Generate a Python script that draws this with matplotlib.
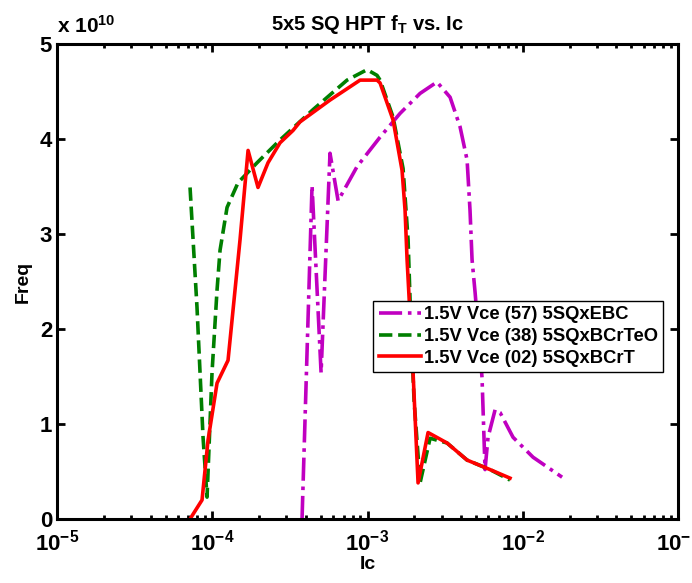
import matplotlib
matplotlib.use("Agg")
import matplotlib.pyplot as plt
from matplotlib.ticker import FixedLocator, LogLocator, NullFormatter, FuncFormatter
import numpy as np

plt.rcParams['font.family'] = ['Liberation Sans', 'DejaVu Sans']
plt.rcParams['font.weight'] = 'bold'
plt.rcParams['mathtext.fontset'] = 'custom'
plt.rcParams['mathtext.rm'] = 'Liberation Sans:bold'
plt.rcParams['mathtext.it'] = 'Liberation Sans:bold'
plt.rcParams['mathtext.bf'] = 'Liberation Sans:bold'

# frequencies in units of 1e10 Hz
ic_57 = [3.785e-4, 4.39e-4, 5.02e-4, 5.73e-4, 6.46e-4, 8.56e-4, 1.204e-3, 1.62e-3,
         2.179e-3, 2.80e-3, 3.40e-3, 3.94e-3, 4.375e-3, 4.57e-3, 4.71e-3, 4.93e-3,
         5.46e-3, 5.71e-3, 5.97e-3, 6.63e-3, 7.14e-3, 8.65e-3, 1.164e-2, 1.79e-2]
ft_57 = [0.0, 3.51, 1.54, 3.85, 3.35, 3.71, 4.02, 4.27,
         4.48, 4.60, 4.44, 4.13, 3.78, 3.25, 2.73, 2.38,
         1.49, 0.52, 0.86, 1.15, 1.12, 0.86, 0.65, 0.44]

ic_38 = [7.19e-5, 7.97e-5, 8.72e-5, 9.25e-5, 9.96e-5, 1.073e-4, 1.122e-4, 1.245e-4,
         1.465e-4, 1.942e-4, 2.73e-4, 4.46e-4, 7.38e-4, 9.93e-4, 1.151e-3, 1.204e-3,
         1.46e-3, 1.693e-3, 1.824e-3, 1.906e-3, 1.993e-3, 2.179e-3, 2.527e-3, 3.25e-3,
         4.375e-3, 6.15e-3, 8.27e-3]
ft_38 = [3.49, 2.23, 0.86, 0.23, 1.54, 2.41, 2.83, 3.28,
         3.54, 3.75, 3.99, 4.31, 4.62, 4.73, 4.67, 4.62,
         4.23, 3.69, 2.94, 1.99, 1.25, 0.38, 0.85, 0.80,
         0.62, 0.52, 0.41]

ic_02 = [7.19e-5, 8.59e-5, 9.39e-5, 1.073e-4, 1.263e-4, 1.509e-4, 1.70e-4, 1.97e-4,
         2.285e-4, 2.73e-4, 3.31e-4, 3.67e-4, 5.73e-4, 8.95e-4, 1.151e-3, 1.204e-3,
         1.46e-3, 1.668e-3, 1.744e-3, 1.797e-3, 1.964e-3, 2.115e-3, 2.453e-3, 3.25e-3,
         4.375e-3, 6.15e-3, 8.27e-3]
ft_02 = [0.0, 0.20, 0.83, 1.43, 1.67, 2.94, 3.88, 3.49,
         3.75, 3.96, 4.09, 4.18, 4.41, 4.62, 4.62, 4.59,
         4.20, 3.67, 3.25, 2.73, 1.54, 0.38, 0.91, 0.80,
         0.62, 0.52, 0.43]

labels = ['1.5V Vce (57) 5SQxEBC', '1.5V Vce (38) 5SQxBCrTeO', '1.5V Vce (02) 5SQxBCrT']

fig = plt.figure(figsize=(6.92, 5.83), dpi=100)
ax = fig.add_axes([0.0824, 0.1098, 0.8975, 0.8147])

ax.plot(ic_57, np.array(ft_57) * 1e10, color='#c000c0', linestyle='-.', linewidth=2.6, label=labels[0])
ax.plot(ic_38, np.array(ft_38) * 1e10, color='#007f00', linestyle='--', linewidth=2.6, label=labels[1])
ax.plot(ic_02, np.array(ft_02) * 1e10, color='#ff0000', linestyle='-', linewidth=2.6, label=labels[2])

ax.set_xscale('log')
ax.set_xlim(1e-5, 1e-1)
ax.set_ylim(0, 5e10)
ax.yaxis.set_major_locator(FixedLocator([0, 1e10, 2e10, 3e10, 4e10, 5e10]))
ax.yaxis.set_major_formatter(FuncFormatter(lambda v, p: '%d' % round(v / 1e10)))
ax.xaxis.set_minor_locator(LogLocator(base=10, subs=np.arange(2, 10)))
ax.xaxis.set_minor_formatter(NullFormatter())

ax.tick_params(which='both', direction='in', top=True, right=True, labelsize=16, width=2)
ax.tick_params(which='major', length=6)
ax.tick_params(which='minor', length=3)
ax.tick_params(axis='x', pad=8)
for s in ax.spines.values():
    s.set_linewidth(2.2)

ax.set_title('5x5 SQ HPT f$_T$ vs. Ic', fontsize=14.5, fontweight='bold', pad=10)
ax.set_xlabel('Ic', fontsize=14, fontweight='bold', labelpad=0)
ax.set_ylabel('Freq', fontsize=14, fontweight='bold', labelpad=6)
ax.text(0.0, 1.015, 'x 10$^{10}$', transform=ax.transAxes, fontsize=15, fontweight='bold',
        ha='left', va='bottom')

leg = ax.legend(loc='upper left', bbox_to_anchor=(0.509, 0.459), fontsize=13.2,
                frameon=True, fancybox=False, framealpha=1, edgecolor='black',
                handlelength=2.3, handletextpad=0.15, borderpad=0.3, labelspacing=0.25,
                borderaxespad=0)
leg.get_frame().set_linewidth(1.0)

fig.savefig('out.png', dpi=100)
